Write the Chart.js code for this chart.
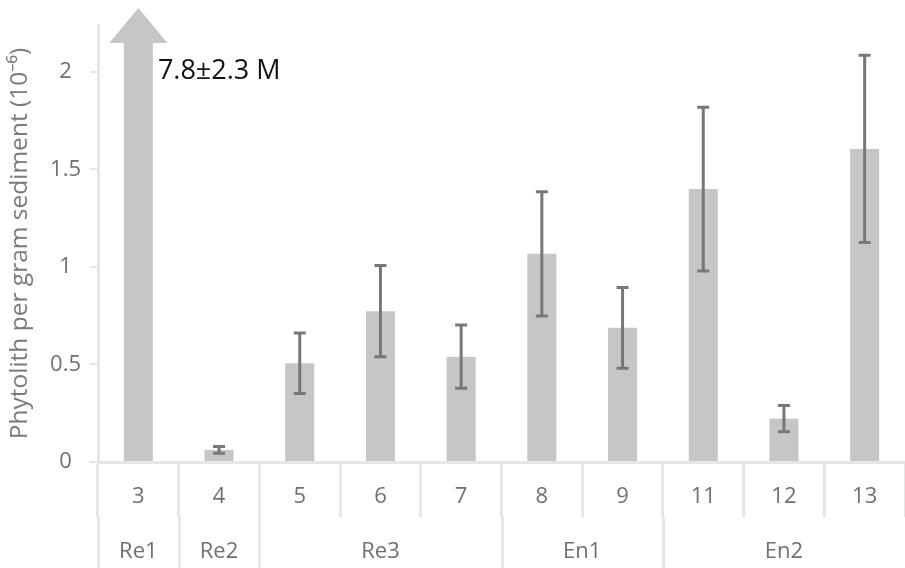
<!DOCTYPE html>
<html><head><meta charset="utf-8">
<script src="https://cdn.jsdelivr.net/npm/chart.js@4.4.0/dist/chart.umd.min.js"></script>
<style>html,body{margin:0;padding:0;background:#fff;overflow:hidden}</style>
</head><body>
<canvas id="c" width="905" height="568" style="width:905px;height:568px;display:block"></canvas>
<script>
const samples = ['3','4','5','6','7','8','9','11','12','13'];
const means = [7.8, 0.062, 0.506, 0.773, 0.54, 1.067, 0.688, 1.399, 0.222, 1.605];
const errors = [2.3, 0.017, 0.155, 0.234, 0.162, 0.318, 0.207, 0.42, 0.067, 0.48];
const groupNames = ['Re1','Re2','Re3','En1','En2'];
const groupSizes = [1,1,3,2,3];
const yTicks = [0,0.5,1,1.5,2];
const yMax = 2.24;

const FONT = '"Open Sans", "Noto Sans", sans-serif';
const BAR = '#c5c6c5', ERR = '#777777', LINE = '#e6e6e6', TXT = '#707070';
const TICK_ZONE = 55;

const overlay = {
  id: 'overlay',
  afterDatasetsDraw(chart) {
    const ctx = chart.ctx, y = chart.scales.y, area = chart.chartArea;
    const meta = chart.getDatasetMeta(0);
    ctx.save();
    ctx.strokeStyle = ERR; ctx.lineWidth = 3;
    means.forEach((m, i) => {
      if (m + errors[i] > yMax) return;
      const bx = meta.data[i].x;
      const t = y.getPixelForValue(m + errors[i]), b = y.getPixelForValue(m - errors[i]);
      ctx.beginPath();
      ctx.moveTo(bx, t); ctx.lineTo(bx, b);
      ctx.moveTo(bx - 6, t); ctx.lineTo(bx + 6, t);
      ctx.moveTo(bx - 6, b); ctx.lineTo(bx + 6, b);
      ctx.stroke();
    });
    means.forEach((m, i) => {
      if (m <= yMax) return;
      const bar = meta.data[i], bx = bar.x, hw = bar.width;
      const base = area.top + 18, tip = base - 35;
      ctx.fillStyle = BAR;
      ctx.beginPath();
      ctx.moveTo(bx - hw, base); ctx.lineTo(bx, tip); ctx.lineTo(bx + hw, base);
      ctx.closePath(); ctx.fill();
      ctx.fillStyle = '#111'; ctx.font = '27px ' + FONT;
      ctx.textAlign = 'left'; ctx.textBaseline = 'alphabetic';
      ctx.fillText(`${m}±${errors[i]} M`, bx + hw / 2 + 5, area.top + 54);
    });
    ctx.restore();
  },
  afterDraw(chart) {
    const ctx = chart.ctx, x = chart.scales.x, area = chart.chartArea;
    const catW = (area.right - area.left) / samples.length;
    ctx.save();
    ctx.strokeStyle = LINE; ctx.lineWidth = 3;
    ctx.fillStyle = TXT; ctx.font = '22px ' + FONT;
    ctx.textAlign = 'center'; ctx.textBaseline = 'middle';
    let start = 0;
    groupNames.forEach((g, gi) => {
      const end = start + groupSizes[gi];
      const l = x.getPixelForValue(start) - catW / 2;
      const r = x.getPixelForValue(end - 1) + catW / 2;
      ctx.beginPath();
      ctx.moveTo(Math.round(l) + 0.5, area.bottom + TICK_ZONE);
      ctx.lineTo(Math.round(l) + 0.5, chart.height);
      ctx.stroke();
      ctx.fillText(g, (l + r) / 2, 552);
      start = end;
    });
    ctx.restore();
  }
};

new Chart(document.getElementById('c'), {
  type: 'bar',
  data: {
    labels: samples,
    datasets: [{
      data: means,
      backgroundColor: BAR,
      borderWidth: 0,
      barPercentage: 0.36,
      categoryPercentage: 1,
      clip: {left: 0, right: 0, top: -8, bottom: 0}
    }]
  },
  options: {
    responsive: false,
    animation: false,
    devicePixelRatio: 1,
    layout: {padding: {top: 25, right: 0, left: 0, bottom: 0}},
    plugins: {legend: {display: false}, tooltip: {enabled: false}},
    scales: {
      x: {
        grid: {display: true, offset: true, drawOnChartArea: false, drawTicks: true,
               tickLength: TICK_ZONE, color: LINE, lineWidth: 3},
        border: {display: true, color: LINE, width: 3},
        ticks: {color: TXT, font: {family: FONT, size: 22}, padding: -33, maxRotation: 0},
        afterFit(s) { s.height = 106; s.paddingLeft = 0; s.paddingRight = 0; }
      },
      y: {
        min: 0, max: yMax,
        afterBuildTicks(s) { s.ticks = yTicks.map(v => ({value: v})); },
        grid: {display: true, drawOnChartArea: false, drawTicks: true, tickLength: 8,
               color: LINE, lineWidth: 2},
        border: {display: true, color: LINE, width: 3},
        ticks: {color: TXT, font: {family: FONT, size: 22}, padding: 9, crossAlign: 'center',
                callback: v => String(v)},
        title: {display: true, text: 'Phytolith per gram sediment (10⁻⁶)', color: '#7a7a7a',
                font: {family: FONT, size: 24.5}, padding: {top: 5, bottom: 0}},
        afterFit(s) { s.width = 98; s.paddingTop = 0; s.paddingBottom = 0; }
      }
    }
  },
  plugins: [overlay]
});
</script>
</body></html>
